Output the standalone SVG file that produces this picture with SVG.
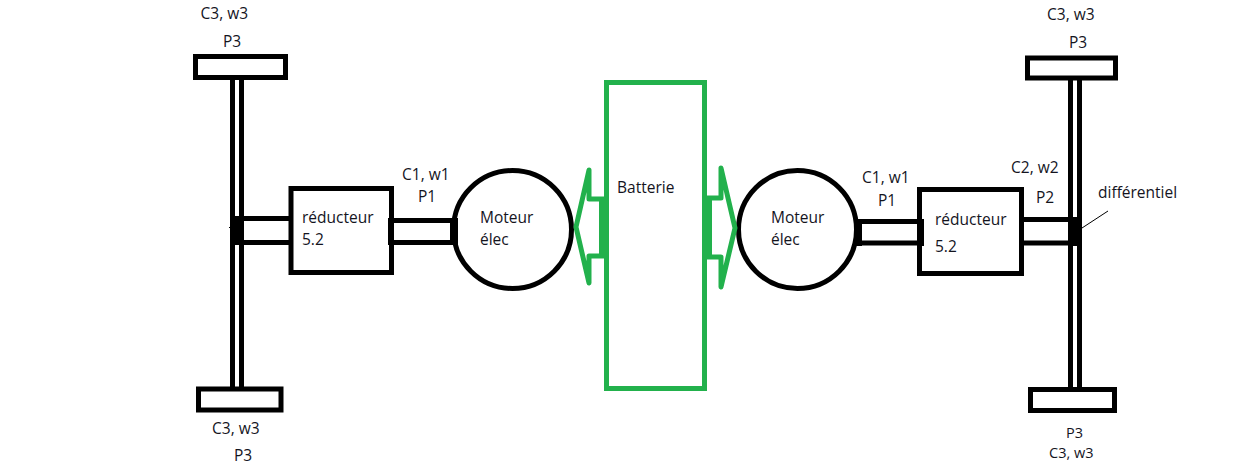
<svg xmlns="http://www.w3.org/2000/svg" width="1233" height="465" viewBox="0 0 1233 465">
<style>
text{font-family:"Open Sans","Noto Sans","DejaVu Sans",sans-serif;font-size:15.500px;fill:#14141e}
.t{font-size:14.500px}
.b{fill:#fff;stroke:#000;stroke-width:5}
.s{fill:none;stroke:#000;stroke-width:5}
.k{fill:#000;stroke:none}
.g{fill:#fff;stroke:#22b14c;stroke-width:5;stroke-linejoin:round}
.gk{fill:#22b14c;stroke:none}
</style>
<rect width="1233" height="465" fill="#fff"/>
<g id="connectors">
<path class="s" d="M232.500 80V387M241.500 80V387"/>
<path class="s" d="M243 218.500H289M243 242.500H289"/>
<path class="s" d="M394 220.500H451M394 242.500H451"/>
<path class="s" d="M858 221.500H919M858 243H919"/>
<path class="s" d="M1024 219.500H1072M1024 243H1072"/>
<path class="s" d="M1070.500 80V387M1079.500 80V387"/>
<path d="M1082 228L1108 211" fill="none" stroke="#000" stroke-width="1"/>
<path d="M229 227.500H232" fill="none" stroke="#000" stroke-width="1"/>
</g>
<g id="wheel-top-left"><rect class="b" x="195.500" y="56.500" width="90" height="21"/><text x="200.500" y="19">C3, w3</text><text x="223" y="47">P3</text></g>
<g id="wheel-bottom-left"><rect class="b" x="198.500" y="389" width="82.500" height="21"/><text x="212" y="434">C3, w3</text><text x="234" y="461">P3</text></g>
<g id="wheel-top-right"><rect class="b" x="1027.500" y="58" width="88" height="20"/><text x="1047" y="20">C3, w3</text><text x="1069" y="48">P3</text></g>
<g id="wheel-bottom-right"><rect class="b" x="1030.500" y="389.500" width="84" height="21"/><text class="t" x="1066" y="437.500">P3</text><text class="t" x="1049" y="457.500">C3, w3</text></g>
<g id="differential-left"><rect class="k" x="232" y="216" width="11" height="29"/></g>
<g id="differential-right"><rect class="k" x="1071" y="217" width="10" height="29"/><text x="1098" y="198">différentiel</text></g>
<g id="reducer-left"><rect class="b" x="291" y="188.500" width="100.500" height="84"/><rect class="k" x="388" y="218" width="6" height="27"/><text x="302" y="223">réducteur</text><text x="302" y="245">5.2</text></g>
<g id="reducer-right"><rect class="b" x="919.500" y="189.500" width="102" height="84"/><rect class="k" x="918" y="219" width="6" height="27"/><text x="935" y="225">réducteur</text><text x="935" y="252">5.2</text></g>
<g id="motor-left"><circle class="b" cx="512.500" cy="229.500" r="59"/><rect class="k" x="450" y="218" width="8" height="27"/><text x="480" y="223">Moteur</text><text x="480" y="245">élec</text><text x="402" y="180">C1, w1</text><text x="418" y="202">P1</text></g>
<g id="motor-right"><circle class="b" cx="797.500" cy="229.500" r="59"/><rect class="k" x="855" y="219" width="7" height="27"/><text x="771" y="223">Moteur</text><text x="771" y="245">élec</text><text x="862" y="183">C1, w1</text><text x="878" y="206">P1</text></g>
<g id="battery"><rect fill="#fff" stroke="#22b14c" stroke-width="5" x="606.500" y="82.500" width="98" height="306"/>
<path class="g" d="M604 199H589V170L576 227L589 283V256H604Z"/><rect class="gk" x="599" y="197" width="6" height="61"/>
<path class="g" d="M707 198H721V168L735 228L721 287V257H707Z"/><rect class="gk" x="706" y="196" width="6" height="63"/>
<text x="617" y="193">Batterie</text></g>
<g id="label-c2"><text x="1011" y="173">C2, w2</text><text x="1036" y="203">P2</text></g>
</svg>
